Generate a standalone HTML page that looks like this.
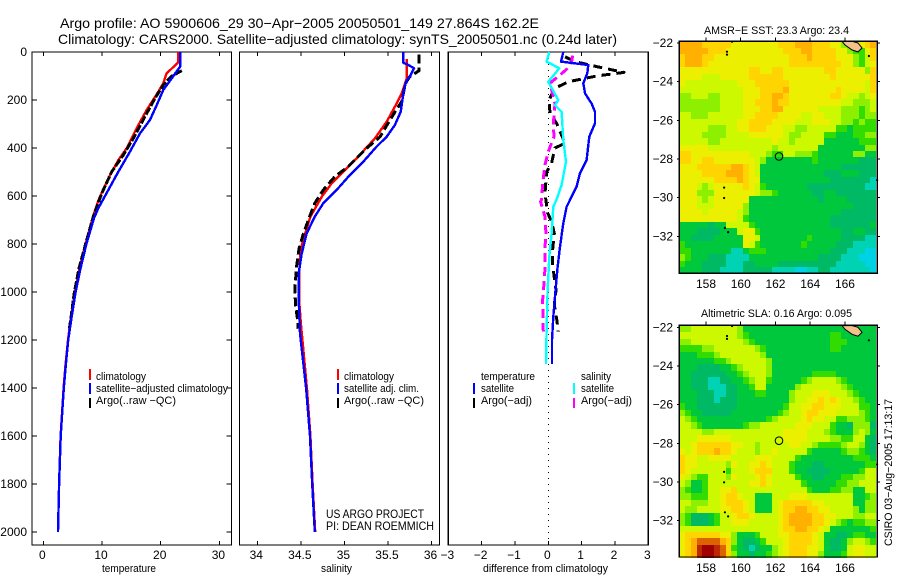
<!DOCTYPE html>
<html><head><meta charset="utf-8"><title>Argo profile</title>
<style>
html,body{margin:0;padding:0;background:#fff;}
svg{display:block;font-family:"Liberation Sans",sans-serif;fill:#000;}
text{fill:#000;}
.t{font-size:14px;}.l{font-size:11px;}.k{font-size:12px;}
.fr{fill:none;stroke:#000;stroke-width:1.4;}
</style></head><body>
<svg id="fig" xmlns="http://www.w3.org/2000/svg" width="900" height="580" viewBox="0 0 900 580">
<rect width="900" height="580" fill="#fff"/>
<text class="t" x="60" y="28" textLength="479" lengthAdjust="spacingAndGlyphs">Argo profile: AO 5900606_29 30−Apr−2005 20050501_149 27.864S 162.2E</text>
<text class="t" x="58" y="44" textLength="559" lengthAdjust="spacingAndGlyphs">Climatology: CARS2000. Satellite−adjusted climatology: synTS_20050501.nc (0.24d later)</text>

<g id="p1"></g>
<g id="p2"></g>
<g id="p3"></g>

<text class="l" x="102" y="572" textLength="54" lengthAdjust="spacingAndGlyphs">temperature</text>
<text class="l" x="321" y="572" textLength="31" lengthAdjust="spacingAndGlyphs">salinity</text>
<text class="l" x="483" y="572" textLength="125" lengthAdjust="spacingAndGlyphs">difference from climatology</text>

<g>
<rect x="89" y="369" width="2" height="11" fill="#f00"/>
<rect x="89" y="383" width="2" height="11" fill="#00f"/>
<rect x="89" y="398" width="2" height="10" fill="#000"/>
<text class="l" x="96" y="380" textLength="50" lengthAdjust="spacingAndGlyphs">climatology</text>
<text class="l" x="96" y="392" textLength="132" lengthAdjust="spacingAndGlyphs">satellite−adjusted climatology</text>
<text class="l" x="96" y="404" textLength="80" lengthAdjust="spacingAndGlyphs">Argo(..raw −QC)</text>
</g>
<g>
<rect x="337" y="369" width="2" height="11" fill="#f00"/>
<rect x="337" y="383" width="2" height="11" fill="#00f"/>
<rect x="337" y="398" width="2" height="10" fill="#000"/>
<text class="l" x="344" y="380" textLength="50" lengthAdjust="spacingAndGlyphs">climatology</text>
<text class="l" x="344" y="392" textLength="75" lengthAdjust="spacingAndGlyphs">satellite adj. clim.</text>
<text class="l" x="344" y="404" textLength="80" lengthAdjust="spacingAndGlyphs">Argo(..raw −QC)</text>
</g>
<text class="k" x="326" y="518" textLength="98" lengthAdjust="spacingAndGlyphs">US ARGO PROJECT</text>
<text class="k" x="326" y="530" textLength="108" lengthAdjust="spacingAndGlyphs">PI: DEAN ROEMMICH</text>
<g>
<text class="l" x="481" y="380" textLength="54" lengthAdjust="spacingAndGlyphs">temperature</text>
<rect x="473" y="383" width="2" height="11" fill="#00f"/>
<rect x="473" y="398" width="2" height="10" fill="#000"/>
<text class="l" x="481" y="392" textLength="33" lengthAdjust="spacingAndGlyphs">satellite</text>
<text class="l" x="481" y="404" textLength="51" lengthAdjust="spacingAndGlyphs">Argo(−adj)</text>
<text class="l" x="581" y="380" textLength="30" lengthAdjust="spacingAndGlyphs">salinity</text>
<rect x="573" y="383" width="2" height="11" fill="#0ff"/>
<rect x="573" y="398" width="2" height="10" fill="#f0f"/>
<text class="l" x="581" y="392" textLength="33" lengthAdjust="spacingAndGlyphs">satellite</text>
<text class="l" x="581" y="404" textLength="51" lengthAdjust="spacingAndGlyphs">Argo(−adj)</text>
</g>

<g id="m1"></g>
<g id="m2"></g>
<text class="l" x="704" y="34" textLength="145" lengthAdjust="spacingAndGlyphs">AMSR−E SST: 23.3 Argo: 23.4</text>
<text class="l" x="701" y="317" textLength="151" lengthAdjust="spacingAndGlyphs">Altimetric SLA: 0.16 Argo: 0.095</text>
<text class="l" transform="translate(892,546) rotate(-90)" x="0" y="0" textLength="147" lengthAdjust="spacingAndGlyphs">CSIRO 03−Aug−2005 17:13:17</text>
</svg>

<script>
// ---------- profile data ----------
const depthTicks = [0,200,400,600,800,1000,1200,1400,1600,1800,2000];
const tempTicks = [0,10,20,30];
const salTicks = [34,34.5,35,35.5,36];
const salTickLabels = ['34','34.5','35','35.5','36'];
const diffTicks = [-3,-2,-1,0,1,2,3];

const tempClimDepth = [0,44,89,130,165,242,318,401,450,525,617,692,800,900,1000,1100,1200,1300,1400,1600,1800,2000];
const tempClimValue = [23,22.95,21,20.45,19.6,17.6,15.9,14.2,12.8,11.1,9.4,8.4,7.2,6.2,5.35,4.75,4.2,3.8,3.45,2.95,2.7,2.5];
const tempSatDepth = [0,59,110,158,228,283,339,415,499,575,651,692,800,900,1000,1100,1200,1300,1400,1600,1800,2000];
const tempSatValue = [23.3,23.35,21.87,20.45,19.2,18.17,16.47,14.77,12.78,11.07,9.37,8.64,7.35,6.35,5.5,4.85,4.25,3.85,3.5,2.97,2.7,2.5];
const tempArgoDepth = [78,100,138,193,269,360,429,499,589,686,800,900,1000,1100,1160];
const tempArgoValue = [23.6,21.87,20.45,19.03,17.3,15.33,13.63,11.65,9.95,8.52,7.2,6.1,5.3,4.75,4.4];

const salClimDepth = [30,110,172,214,290,360,443,499,547,603,686,756,818,922,1033,1133,1270,1400,1600,1800,2000];
const salClimValue = [35.715,35.715,35.658,35.6,35.486,35.35,35.14,34.987,34.854,34.74,34.61,34.55,34.5,34.48,34.48,34.5,34.536,34.57,34.61,34.635,34.665];
const salSatDepth = [0,46,50,68,103,124,172,249,304,353,394,457,512,575,630,686,756,840,922,1033,1172,1270,1400,1600,1800,2000];
const salSatValue = [35.677,35.677,35.715,35.8,35.75,35.707,35.677,35.646,35.58,35.486,35.37,35.217,35.064,34.91,34.758,34.66,34.567,34.51,34.475,34.475,34.49,34.52,34.56,34.605,34.63,34.66];
const salArgoDepth = [10,50,78,103,131,207,250,298,353,401,477,519,575,630,686,756,818,895,992,1055,1111,1153];
const salArgoValue = [35.857,35.857,35.857,35.75,35.7,35.658,35.58,35.5,35.41,35.256,35.045,34.89,34.758,34.66,34.6,34.53,34.48,34.45,34.43,34.44,34.46,34.47];

const diffTempSatDepth = [0,40,54,89,130,172,215,249,297,353,450,505,561,645,714,811,908,1019,1103,1200,1296,1300];
const diffTempSatValue = [0.45,0.38,1.2,1.17,1.05,1.1,1.3,1.4,1.4,1.23,1.15,0.95,0.85,0.55,0.45,0.35,0.27,0.2,0.15,0.11,0.11,0.11];
const diffTempArgoDepth = [20,40,61,85,100,124,151,200,255,297,380,400,430,463,500,589,670,707,756,825,888,992,1054,1110,1165];
const diffTempArgoValue = [0.5,0.8,1.45,2.27,1.45,0.6,0.2,0.02,0.05,0.25,0.5,0.2,0.15,0.1,-0.05,-0.1,-0.02,0.1,0.18,0.13,0.13,0.23,0.18,0.25,0.3];
const diffSalSatDepth = [0,40,68,124,200,222,249,367,457,554,614,645,756,853,993,1158,1296,1300];
const diffSalSatValue = [0.03,-0.05,0.33,0,0.3,0.2,0.4,0.45,0.53,0.4,0.25,0.15,0.1,0.03,-0.02,-0.05,-0.07,-0.07];
const diffSalArgoDepth = [15,40,72,90,130,215,300,353,415,470,550,614,624,686,760,811,900,965,1035,1165];
const diffSalArgoValue = [0.73,0.7,0.55,0.4,0.05,0.2,0.15,0.17,0,-0.1,-0.17,-0.2,-0.23,-0.1,-0.07,-0.1,-0.1,-0.13,-0.17,-0.15];

// ---------- map data: colour-scale level per 1/3 degree cell ----------
const mapLonTicks = [158,160,162,164,166];
const mapLatTicks = [-22,-24,-26,-28,-30,-32];
const floatLon = [162.2];
const floatLat = [-27.864];
const islandLon = [165.83,166.0,166.41,166.75,166.98,166.75,166.41];
const islandLat = [-21.91,-22.1,-22.36,-22.46,-22.26,-22.0,-21.91];
const isletLon = [167.38,159.21,159.21,159.5,159.04,159.04,159.09,159.27,167.85];
const isletLat = [-22.67,-22.45,-22.6,-21.93,-29.48,-30.02,-31.57,-31.78,-29.09];

const sstLevels = [
[9,9,9,9,8,8,8,8,8,7,7,7,7,7,7,7,7,8,8,8,9,9,9,8,8,8,7,7,5,5,5,7,8,9],
[9,9,9,9,9,8,8,8,7,7,7,7,7,7,7,7,7,7,8,8,8,9,9,8,8,8,8,7,7,5,4,4,7,8],
[8,9,9,9,8,8,7,7,7,7,7,7,7,7,7,7,7,7,7,8,8,8,9,8,8,8,8,7,7,7,5,4,6,8],
[8,9,9,9,8,7,7,7,7,7,7,7,7,7,7,7,7,7,7,8,8,8,8,8,8,8,8,8,7,7,5,4,6,7],
[7,7,7,7,7,7,7,7,7,7,7,7,8,8,7,7,8,8,7,7,7,7,7,7,7,8,8,7,7,7,7,7,5,8],
[7,7,7,7,6,6,6,7,7,7,7,7,8,8,8,8,8,8,7,7,7,7,7,7,7,7,8,7,7,7,7,7,7,8],
[7,6,6,6,6,6,6,6,6,6,7,7,7,8,8,8,8,8,8,7,7,7,7,7,7,7,7,7,7,7,7,7,6,8],
[6,6,6,6,6,6,6,6,6,6,6,7,7,7,8,8,8,8,9,7,7,7,7,7,7,7,7,8,7,7,7,7,6,8],
[5,5,6,6,6,5,5,6,6,6,6,7,7,7,8,8,9,9,8,7,7,7,7,7,7,7,8,8,7,6,6,5,6,7],
[5,5,5,5,5,5,5,6,6,6,6,7,7,8,8,8,9,8,8,7,7,7,7,7,7,7,7,7,6,6,5,5,5,6],
[5,5,5,5,5,5,5,6,6,6,6,7,7,7,8,8,9,9,7,7,7,7,7,7,6,6,6,6,5,5,5,4,5,6],
[6,6,5,5,5,6,6,6,6,6,6,7,7,8,8,8,8,7,7,7,7,6,6,7,7,6,6,6,5,5,5,4,5,5],
[6,6,6,6,6,6,6,6,6,6,7,7,8,8,8,8,7,7,7,7,6,6,6,7,7,7,6,6,5,5,4,5,4,4],
[6,6,6,6,6,5,5,5,6,6,7,7,8,8,8,7,7,7,6,6,5,5,6,6,6,6,6,4,4,3,4,4,4,4],
[6,6,6,6,5,5,5,5,6,6,6,6,7,7,7,7,7,7,6,5,5,6,6,6,6,4,4,3,3,3,4,4,5,5],
[6,6,6,6,6,5,5,6,6,6,6,6,6,6,6,6,7,6,6,5,6,6,6,6,6,3,3,3,3,3,3,4,4,4],
[7,7,7,7,7,6,6,6,6,6,6,6,6,6,6,6,5,6,6,6,6,6,6,6,3,3,3,3,3,3,3,3,5,5],
[8,8,7,7,7,7,7,7,7,7,7,7,6,6,6,5,4,4,6,6,5,5,5,4,3,3,3,3,3,3,5,5,3,3],
[8,8,7,7,8,8,7,7,7,7,7,7,7,6,5,3,3,3,3,3,3,3,3,4,3,3,3,3,3,3,3,2,2,2],
[7,7,7,8,8,8,8,8,8,9,9,8,7,6,3,3,3,3,3,3,3,3,3,3,3,3,3,3,2,2,2,2,2,2],
[7,7,7,7,8,8,8,8,9,9,9,8,7,6,3,3,3,3,3,3,3,3,3,3,3,2,2,2,3,3,3,2,2,2],
[7,7,7,7,7,7,8,8,8,8,9,8,7,7,3,3,3,3,3,3,3,3,3,3,3,3,2,2,2,2,2,2,2,1],
[7,7,7,6,5,6,7,7,7,7,7,8,7,6,4,3,3,3,3,3,3,3,2,2,2,2,2,2,2,2,2,2,1,1],
[7,7,7,5,5,5,7,7,7,7,7,7,7,6,5,5,4,3,3,3,3,3,3,2,2,3,3,2,2,2,2,2,2,2],
[7,7,7,6,5,6,7,7,7,7,7,7,3,3,3,3,3,3,3,3,3,3,3,3,2,3,3,3,3,2,2,2,2,2],
[7,7,7,6,6,6,7,7,7,7,7,5,3,3,3,3,3,3,3,3,3,3,3,3,3,3,3,3,3,3,2,2,2,2],
[7,7,7,7,6,7,7,7,7,7,6,5,3,3,3,3,3,3,3,3,3,3,3,3,3,3,3,3,2,2,2,2,2,2],
[7,7,7,7,7,7,7,7,7,7,6,4,3,3,3,3,3,3,3,3,3,3,3,3,3,3,2,2,2,2,2,2,2,2],
[3,3,3,3,3,2,3,3,6,6,6,6,4,3,3,3,3,3,3,3,3,3,3,3,3,3,2,2,2,2,2,2,2,3],
[3,3,3,2,2,2,2,3,3,3,6,7,7,4,3,3,3,3,3,3,3,3,3,3,3,3,3,3,2,2,3,3,2,2],
[3,3,2,2,2,2,3,3,3,3,3,7,7,6,3,3,3,3,3,3,3,3,4,3,3,3,3,3,2,2,2,2,1,1],
[4,3,3,3,3,3,3,3,3,3,3,7,6,4,3,3,3,3,3,3,3,4,3,3,3,3,3,2,2,2,1,1,1,1],
[4,4,3,3,3,3,3,3,3,1,1,3,4,4,4,3,3,3,3,3,3,3,3,3,3,3,2,2,2,1,1,1,0,0],
[5,4,3,3,3,2,2,2,1,1,1,1,3,3,3,3,3,3,3,3,3,3,3,3,2,2,2,2,1,1,1,0,0,0],
[4,3,3,3,2,2,2,2,1,1,1,2,2,3,3,3,3,2,2,2,2,2,2,2,2,2,2,1,1,1,1,1,0,0],
[3,3,3,3,2,2,2,1,1,1,1,2,2,2,2,2,1,1,1,1,0,0,1,1,2,2,1,1,1,1,1,1,1,0]
];
const slaLevels = [
[5,5,6,6,6,6,6,6,6,6,5,3,3,3,3,3,3,3,3,3,3,3,3,3,3,3,3,3,3,3,3,3,3,3],
[6,6,6,6,6,6,6,6,6,6,5,4,3,3,3,3,3,3,3,3,3,3,3,3,3,3,4,4,3,3,3,3,3,3],
[5,5,6,6,6,6,6,6,6,6,6,5,4,3,3,3,3,3,3,3,3,3,3,3,3,3,4,4,4,3,3,3,3,3],
[4,4,4,4,5,5,6,6,6,6,6,6,6,5,4,3,3,3,3,3,3,3,3,3,3,3,4,4,3,3,3,3,3,3],
[3,3,3,4,4,4,5,6,6,6,6,6,6,6,5,3,3,3,3,3,3,3,3,3,3,3,3,3,3,3,3,3,3,3],
[3,3,3,3,3,3,4,4,5,6,6,6,6,6,6,5,3,3,3,3,3,3,3,3,3,3,3,3,3,3,3,3,3,3],
[3,3,3,2,2,2,2,3,3,4,5,6,6,6,6,5,3,3,3,3,3,3,3,3,3,3,3,3,3,3,3,3,3,3],
[3,3,2,2,2,2,2,2,3,3,4,5,6,6,6,5,3,3,3,3,3,3,3,4,4,4,4,3,3,3,3,3,3,3],
[3,3,2,2,2,1,1,2,2,3,3,4,5,6,6,4,3,3,3,3,3,4,5,6,6,6,6,5,4,3,3,3,3,3],
[3,3,2,2,2,1,1,1,2,2,3,3,4,6,6,3,3,3,3,3,5,6,6,6,6,6,6,6,5,4,3,3,3,3],
[3,3,3,2,2,2,1,1,2,2,3,3,3,4,4,3,3,3,3,5,6,6,6,7,7,7,6,6,6,5,4,3,3,3],
[3,3,3,2,2,2,1,2,2,2,3,3,3,3,3,3,3,3,3,5,6,6,7,7,8,7,8,7,6,6,5,4,3,3],
[4,3,3,2,2,2,2,2,2,2,3,3,3,3,3,3,3,3,4,6,6,7,7,8,8,7,7,7,6,6,6,4,4,3],
[5,4,3,3,2,2,2,2,2,3,3,3,3,3,3,3,3,4,5,6,6,7,8,8,7,7,7,6,6,6,6,5,4,3],
[6,5,4,3,3,3,3,3,3,3,3,3,3,3,3,4,5,6,6,6,6,7,8,7,7,6,6,4,4,5,5,5,4,3],
[6,6,5,4,3,3,3,3,3,3,3,4,5,5,6,6,6,6,6,6,7,7,7,6,6,6,4,3,3,2,5,5,5,2],
[6,6,6,6,5,5,6,6,6,6,6,6,6,6,6,6,6,6,7,7,7,7,6,6,6,5,4,3,3,3,5,6,5,3],
[6,6,6,7,7,7,7,7,7,6,6,6,6,6,6,6,6,6,7,7,7,7,6,6,6,6,5,5,4,4,6,6,3,2],
[6,6,7,8,8,8,8,8,8,7,7,6,6,5,6,6,6,6,6,7,7,6,6,5,4,4,4,4,5,6,6,5,3,2],
[7,6,7,8,8,8,9,8,8,7,6,6,6,5,6,6,7,6,6,6,6,6,4,3,3,3,3,3,4,5,5,4,3,2],
[8,7,7,6,6,7,7,7,7,6,6,6,6,7,7,7,6,6,6,6,4,3,3,3,3,3,3,3,3,3,4,4,4,3],
[8,7,7,6,6,6,6,6,5,7,6,6,7,7,8,7,6,6,6,4,3,3,3,2,2,3,3,3,3,3,3,3,4,4],
[8,7,6,6,6,6,6,6,4,6,6,6,7,8,8,8,6,6,6,4,3,3,2,2,2,2,3,3,3,3,3,4,6,6],
[7,6,5,4,4,6,6,6,5,7,6,6,6,7,8,7,6,6,6,6,4,3,3,2,2,3,3,3,4,4,5,5,6,6],
[6,5,3,3,4,6,6,6,6,6,6,6,7,7,8,7,6,6,6,6,6,4,3,3,3,3,3,4,4,5,5,6,6,6],
[5,4,3,3,4,6,6,7,7,8,6,6,6,6,6,6,6,6,6,6,6,6,4,3,3,3,4,4,5,5,3,3,6,6],
[5,5,4,4,4,6,6,7,8,8,7,6,6,3,3,3,6,6,6,7,7,7,6,6,6,6,6,6,6,6,3,3,4,5],
[6,6,5,5,5,6,6,7,8,8,8,7,6,3,3,3,6,7,8,8,8,8,8,7,7,6,6,6,6,6,3,3,5,5],
[6,5,5,6,6,6,6,7,7,8,8,7,6,3,3,3,6,7,8,8,9,9,8,8,7,7,6,6,6,6,5,3,5,5],
[5,4,2,2,2,3,4,6,6,7,8,8,7,6,6,6,6,7,8,9,9,9,9,8,8,7,7,6,6,6,5,5,6,6],
[5,4,2,2,2,3,4,6,6,7,7,7,6,6,6,6,6,7,8,9,9,9,9,8,8,7,6,5,4,3,4,4,5,5],
[6,6,6,6,6,6,6,6,6,6,6,6,6,6,6,6,6,7,8,8,9,9,8,8,7,6,3,3,3,3,3,3,3,4],
[7,8,8,8,8,8,8,7,7,5,3,3,3,4,6,6,6,7,7,8,8,8,8,7,6,3,3,2,2,3,4,4,3,3],
[7,8,9,10,10,10,10,9,8,5,3,2,2,3,4,6,6,6,7,8,8,8,8,7,6,3,2,2,3,5,6,6,5,4],
[7,8,9,11,12,12,11,10,8,4,3,2,1,2,3,3,5,6,7,8,8,8,7,7,6,3,2,2,3,6,7,7,6,6],
[7,8,9,11,12,12,11,10,8,5,3,3,2,3,3,4,5,6,7,8,8,8,7,7,5,3,3,3,4,6,7,7,6,6]
];
const levelColors = ['#00d2e6','#00d2b4','#00b964','#00c83c','#32dc00','#8cf000','#ccf800','#ecf000','#ffd400','#ffb000','#dc6400','#be2800','#a00000'];

// ---------- helpers ----------
const NS = 'http://www.w3.org/2000/svg';
function mk(parent, tag, attrs) {
  const el = document.createElementNS(NS, tag);
  for (const k in attrs) el.setAttribute(k, attrs[k]);
  parent.appendChild(el);
  return el;
}
const depthY = d => 52 + d * 0.24;
const tempX = v => 43.3 + v * 5.87;
const salX = v => 257.3 + (v - 34) * 87.1;
const diffX = v => 548.3 + v * 33.33;

function drawFrameTicks(g, left, right, xScale, xTicks, xLabels, hasYLabels) {
  const top = 52, bottom = 545;
  const frame = mk(g, 'rect', {x: left, y: top, width: right - left, height: bottom - top, class: 'fr', 'shape-rendering': 'crispEdges'});
  
  
  xTicks.forEach((t, i) => {
    const x = xScale(t);
    [[top, top + 4], [bottom - 4, bottom]].forEach(p => {
      const tick = mk(g, 'line', {x1: x, x2: x, y1: p[0], y2: p[1], stroke: '#000', 'shape-rendering': 'crispEdges'});
      
      
    });
    const lab = mk(g, 'text', {x: x - 1, y: 559, 'text-anchor': 'middle', class: 'k'});
    lab.textContent = xLabels[i];
    
    
  });
  if (hasYLabels) depthTicks.forEach(d => {
    const y = depthY(d);
    if (d > 0) {
      [[left, left + 5], [right - 5, right]].forEach(p => {
        const tick = mk(g, 'line', {x1: p[0], x2: p[1], y1: y, y2: y, stroke: '#000', 'shape-rendering': 'crispEdges'});
        
        
      });
    }
    const lab = mk(g, 'text', {x: 27, y: y + 4, 'text-anchor': 'end', class: 'k'});
    lab.textContent = String(d);
    
    
  });
}
function drawSeries(g, name, xScale, depths, values, color, width, dash) {
  const pts = values.map((v, i) => xScale(v).toFixed(1) + ',' + depthY(depths[i]).toFixed(1)).join(' ');
  const line = mk(g, 'polyline', {points: pts, fill: 'none', stroke: color, 'stroke-width': width, 'shape-rendering': 'crispEdges', 'stroke-linejoin': 'round'});
  if (dash) line.setAttribute('stroke-dasharray', dash);
  
  
}

// ---------- profile panels ----------
const p1 = document.getElementById('p1');
const p2 = document.getElementById('p2');
const p3 = document.getElementById('p3');
drawFrameTicks(p1, 32, 231.5, tempX, tempTicks, tempTicks.map(String), true);
drawSeries(p1, 'temperature-climatology-line', tempX, tempClimDepth, tempClimValue, '#f00', 2.4);
drawSeries(p1, 'temperature-argo-line', tempX, tempArgoDepth, tempArgoValue, '#000', 3, '8 2');
drawSeries(p1, 'temperature-satellite-line', tempX, tempSatDepth, tempSatValue, '#00f', 2.4);

drawFrameTicks(p2, 239.5, 439.5, salX, salTicks, salTickLabels, false);
drawSeries(p2, 'salinity-climatology-line', salX, salClimDepth, salClimValue, '#f00', 2.4);
drawSeries(p2, 'salinity-argo-line', salX, salArgoDepth, salArgoValue, '#000', 3, '9 4');
drawSeries(p2, 'salinity-satellite-line', salX, salSatDepth, salSatValue, '#00f', 2.4);

drawFrameTicks(p3, 448.3, 648.3, diffX, diffTicks, diffTicks.map(v => v < 0 ? '−' + (-v) : String(v)), false);
const zero = mk(p3, 'line', {x1: diffX(0), x2: diffX(0), y1: 52, y2: 545, stroke: '#000', 'stroke-dasharray': '1 5', 'shape-rendering': 'crispEdges'});


drawSeries(p3, 'diff-temperature-argo-line', diffX, diffTempArgoDepth, diffTempArgoValue, '#000', 3, '9 6');
drawSeries(p3, 'diff-salinity-argo-line', diffX, diffSalArgoDepth, diffSalArgoValue, '#f0f', 3, '9 5');
drawSeries(p3, 'diff-temperature-satellite-line', diffX, diffTempSatDepth, diffTempSatValue, '#00f', 2.4);
drawSeries(p3, 'diff-salinity-satellite-line', diffX, diffSalSatDepth, diffSalSatValue, '#0ff', 2.4);

// ---------- maps ----------
const lonX = lon => 706 + (lon - 158) * 17.37;
function drawMap(g, name, levels, lat28Y, top, bottom, labelY) {
  const latY = lat => lat28Y + (-28 - lat) * 19.33;
  const lon0 = 156.46, lat0 = -21.92, step = 1 / 3;
  levels.forEach((row, r) => {
    row.forEach((v, c) => {
      const x0 = Math.round(lonX(lon0 + c * step)), x1 = Math.round(lonX(lon0 + (c + 1) * step));
      const y0 = Math.round(latY(lat0 - r * step)), y1 = Math.round(latY(lat0 - (r + 1) * step));
      const cell = mk(g, 'rect', {x: x0, y: y0, width: x1 - x0, height: y1 - y0, fill: levelColors[v], 'shape-rendering': 'crispEdges'});
      
      
    });
  });
  const island = mk(g, 'polygon', {points: islandLon.map((lon, i) => lonX(lon).toFixed(1) + ',' + latY(islandLat[i]).toFixed(1)).join(' '), fill: '#f5c08c', stroke: '#000', 'stroke-width': 1});
  
  
  isletLon.forEach((lon, i) => {
    const dot = mk(g, 'circle', {cx: lonX(lon).toFixed(1), cy: latY(isletLat[i]).toFixed(1), r: 1.1, fill: '#000'});
    
    
  });
  const marker = mk(g, 'circle', {cx: lonX(floatLon[0]).toFixed(1), cy: latY(floatLat[0]).toFixed(1), r: 3.8, fill: 'none', stroke: '#000', 'stroke-width': 1});
  
  
  const frame = mk(g, 'rect', {x: 679.3, y: top, width: 198, height: bottom - top, class: 'fr', 'shape-rendering': 'crispEdges'});
  
  
  mapLonTicks.forEach(t => {
    const tick = mk(g, 'line', {x1: lonX(t), x2: lonX(t), y1: top - 4, y2: top, stroke: '#000', 'shape-rendering': 'crispEdges'});
    
    
    const lab = mk(g, 'text', {x: lonX(t), y: labelY, 'text-anchor': 'middle', class: 'k'});
    lab.textContent = String(t);
    
    
  });
  mapLatTicks.forEach(t => {
    const y = latY(t);
    [[677, 679], [877, 880]].forEach(p => {
      const tick = mk(g, 'line', {x1: p[0], x2: p[1], y1: y, y2: y, stroke: '#000', 'shape-rendering': 'crispEdges'});
      
      
    });
    const lab = mk(g, 'text', {x: 673, y: y + 4, 'text-anchor': 'end', class: 'k'});
    lab.textContent = '−' + (-t);
    
    
  });
}
drawMap(document.getElementById('m1'), 'sst-map', sstLevels, 159, 41.3, 273.3, 288);
drawMap(document.getElementById('m2'), 'sla-map', slaLevels, 443.3, 325.3, 557, 572);
</script>
</body></html>
